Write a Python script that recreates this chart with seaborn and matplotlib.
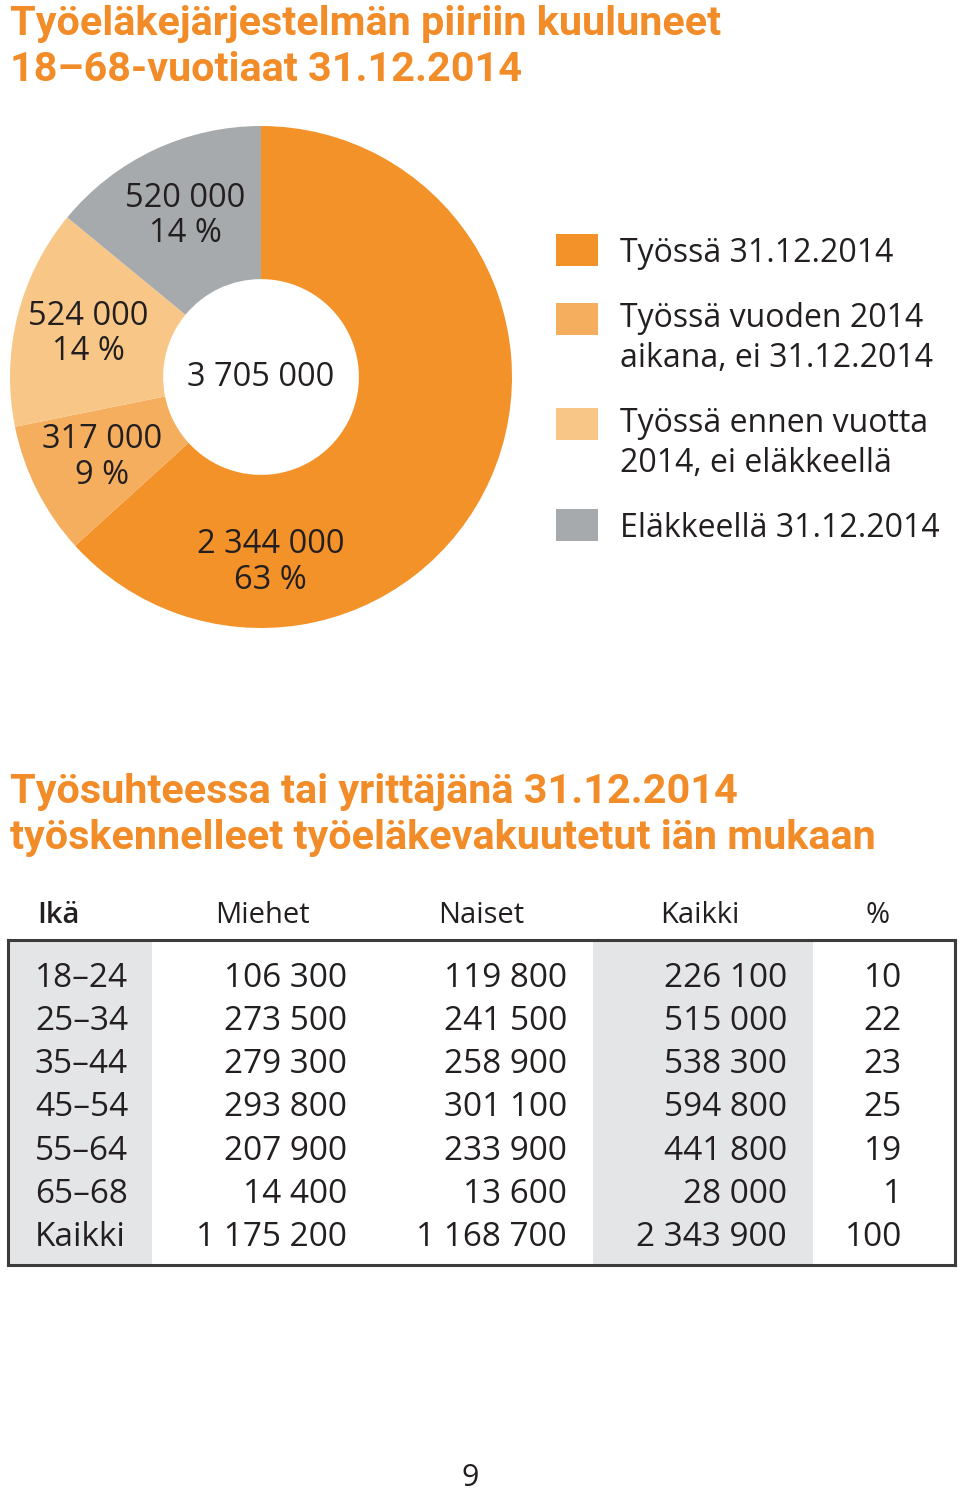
import matplotlib
matplotlib.use('Agg')
import matplotlib.pyplot as plt
from matplotlib.patches import Rectangle
import numpy as np
import pandas as pd
import seaborn as sns

# Donut chart data
pie_labels = ['Työssä 31.12.2014',
              'Työssä vuoden 2014\naikana, ei 31.12.2014',
              'Työssä ennen vuotta\n2014, ei eläkkeellä',
              'Eläkkeellä 31.12.2014']
pie_values = [2344000, 317000, 524000, 520000]
pie_pct = [63, 9, 14, 14]
pie_total = 3705000
pie_colors = ['#F39229', '#F5AE5E', '#F8C788', '#A7AAAC']

# Table data
ages = ['18–24', '25–34', '35–44', '45–54', '55–64', '65–68', 'Kaikki']
men = [106300, 273500, 279300, 293800, 207900, 14400, 1175200]
women = [119800, 241500, 258900, 301100, 233900, 13600, 1168700]
total = [226100, 515000, 538300, 594800, 441800, 28000, 2343900]
share = [10, 22, 23, 25, 19, 1, 100]
headers = ['Ikä', 'Miehet', 'Naiset', 'Kaikki', '%']

title1 = ['Työeläkejärjestelmän piiriin kuuluneet', '18–68-vuotiaat 31.12.2014']
title2 = ['Työsuhteessa tai yrittäjänä 31.12.2014',
          'työskennelleet työeläkevakuutetut iän mukaan']

df = pd.DataFrame({'Ikä': ages, 'Miehet': men, 'Naiset': women,
                   'Kaikki': total, '%': share})


def fmt(v):
    return f'{v:,}'.replace(',', ' ')


sns.set_theme(style='white')
plt.rcParams['font.family'] = ['Open Sans', 'DejaVu Sans']
TXT = '#231F20'
ORANGE = '#F28C28'
W, H = 960, 1498


def fy(py):
    # pixel row from the top -> figure fraction
    return 1 - py / H


fig = plt.figure(figsize=(W / 100, H / 100), dpi=100)

# Titles
for k, line in enumerate(title1):
    fig.text(10 / W, fy(35 + 46 * k), line, ha='left', va='baseline', color=ORANGE,
             fontsize=29.8, fontweight='bold', family=['Roboto', 'DejaVu Sans'])
for k, line in enumerate(title2):
    fig.text(10 / W, fy(803 + 46 * k), line, ha='left', va='baseline', color=ORANGE,
             fontsize=29.8, fontweight='bold', family=['Roboto', 'DejaVu Sans'])

# Donut
ax = fig.add_axes([10 / W, (H - 628) / H, 502 / W, 502 / H])
wedges, _ = ax.pie(pie_values, colors=pie_colors, startangle=90, counterclock=False,
                   radius=1, wedgeprops=dict(width=0.61, linewidth=0))
ax.set_xlim(-1, 1)
ax.set_ylim(-1, 1)
for i, w in enumerate(wedges):
    ang = (w.theta1 + w.theta2) / 2
    r = 0.71
    if i == 0:
        ang, r = -87, 0.74
    x = r * np.cos(np.radians(ang))
    y = r * np.sin(np.radians(ang))
    ax.text(x, y, f'{fmt(pie_values[i])}\n{pie_pct[i]} %', ha='center', va='center',
            fontsize=23.5, color=TXT, linespacing=1.1)
ax.text(0, 0, fmt(pie_total), ha='center', va='center', fontsize=23.5, color=TXT)

# Legend: square per category, text lines on fixed baselines
sq_top = [234, 303, 408, 509]
base = [262, 327, 432, 537]
for i, lab in enumerate(pie_labels):
    fig.add_artist(Rectangle((556 / W, fy(sq_top[i] + 32)), 42 / W, 32 / H,
                             transform=fig.transFigure, color=pie_colors[i], lw=0))
    for k, line in enumerate(lab.split('\n')):
        fig.text(620 / W, fy(base[i] + 40 * k), line, ha='left', va='baseline',
                 fontsize=23, color=TXT)

# Table
tx = fig.add_axes([8 / W, (H - 1265) / H, 947 / W, 325 / H])
tx.set_xlim(8, 955)
tx.set_ylim(6.72, -0.81)
tx.axvspan(10, 152, color='#E4E5E7', lw=0)
tx.axvspan(593, 813, color='#E4E5E7', lw=0)
tx.set_xticks([])
tx.set_yticks([])
for s in tx.spines.values():
    s.set_visible(True)
    s.set_color('#3C3C3C')
    s.set_linewidth(2.2)

dy = 0.08
for i, row in df.iterrows():
    tx.text(35, i + dy, row['Ikä'], ha='left', va='center', fontsize=24, color=TXT)
    tx.text(347, i + dy, fmt(row['Miehet']), ha='right', va='center', fontsize=24, color=TXT)
    tx.text(567, i + dy, fmt(row['Naiset']), ha='right', va='center', fontsize=24, color=TXT)
    tx.text(787, i + dy, fmt(row['Kaikki']), ha='right', va='center', fontsize=24, color=TXT)
    tx.text(902, i + dy, str(row['%']), ha='right', va='center', fontsize=24, color=TXT)

hx = [37, 262, 481, 700, 878]
for j, h in enumerate(headers):
    tx.text(hx[j], -1.38, h, ha='left' if j == 0 else 'center', va='center',
            fontsize=21, color=TXT, clip_on=False,
            fontweight='semibold' if j == 0 else 'normal')

fig.text(470 / W, fy(1478), '9', ha='center', va='center', fontsize=22, color=TXT)

fig.savefig('out.png', dpi=100)
